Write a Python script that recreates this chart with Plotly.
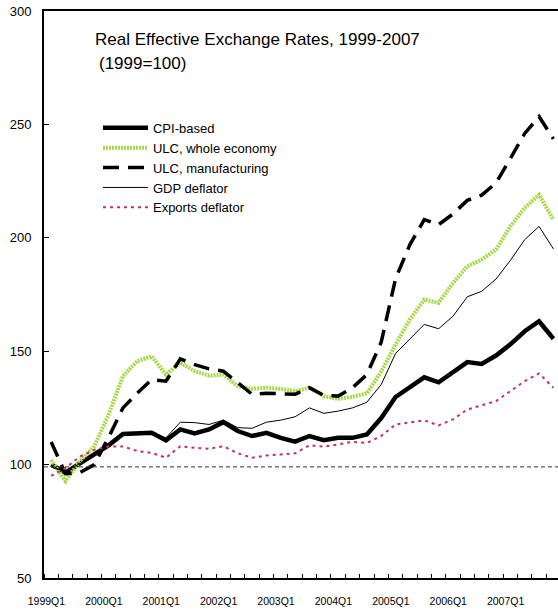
import plotly.graph_objects as go

# quarterly labels 1999Q1 .. 2007Q4
quarters = ['{}Q{}'.format(y, q) for y in range(1999, 2008) for q in range(1, 5)]
x_idx = list(range(len(quarters)))

cpi = [100, 96.5, 100.5, 104.5, 108.5, 113.5, 113.7, 114, 110.7, 115.5, 113.7, 115.5,
       118.7, 114.8, 112.6, 114, 111.8, 110.1, 112.6, 110.8, 111.8, 111.8, 113.3, 120.5,
       129.8, 134.3, 138.5, 136.3, 140.7, 145.2, 144.4, 148.1, 153, 158.8, 163.2, 155.5]
ulc_whole = [102, 92.7, 101.5, 108, 122, 139, 145.6, 147.8, 139.7, 145, 141.2, 139.2,
             139.7, 134.6, 133.4, 133.9, 133.4, 132.4, 133.9, 130.2, 129, 129.9, 131.4, 141,
             153, 164, 172.8, 171.3, 180, 187.4, 190.4, 194.8, 205, 213.2, 219, 208]
ulc_manuf = [110, 96, 96.5, 100, 112, 125, 131.5, 137.5, 136.8, 146.6, 144.1, 142.2,
             141.2, 136, 131, 131.5, 131.4, 131, 133.9, 130.5, 130.2, 133.9, 139.7, 154,
             182, 197, 208, 205.8, 210.5, 216.5, 218.8, 224.2, 235, 246, 253.5, 243.6]
gdp = [99, 97, 100.5, 104, 108.5, 113.3, 113.5, 113.8, 111.8, 118.7, 118.5, 117.7,
       119.6, 116.3, 116, 118.7, 119.6, 121.1, 125, 122.6, 123.6, 125, 127.5, 135.3,
       149, 155.2, 161.8, 159.9, 165.4, 174, 176.4, 181.8, 190, 199.2, 205, 195.1]
exports = [95, 98.5, 103.5, 106.5, 108, 108, 106, 105.2, 103, 108.1, 107.4, 107,
           108.1, 105, 103, 104, 104.5, 105, 108.5, 107.9, 108.9, 110, 109.6, 112.6,
           117.7, 118.7, 119.5, 117.3, 119.9, 124.3, 126.1, 128, 132.4, 136.8, 140.2, 133.9]

baseline = 99
y_ticks = [50, 100, 150, 200, 250, 300]

FONT = 'Liberation Sans, Arial, sans-serif'

fig = go.Figure()

series = [
    ('CPI-based', cpi, dict(color='black', width=4.5)),
    ('ULC, whole economy', ulc_whole, dict(color='#a6d84a', width=4, dash='2px,1px')),
    ('ULC, manufacturing', ulc_manuf, dict(color='black', width=3.5, dash='16px,9px')),
    ('GDP deflator', gdp, dict(color='black', width=1)),
    ('Exports deflator', exports, dict(color='#c0306a', width=2, dash='3px,4px')),
]
for name, ydata, line in series:
    fig.add_trace(go.Scatter(x=x_idx, y=ydata, mode='lines', name=name, line=line))

# 1999 = 100 reference line
fig.add_shape(type='line', xref='paper', yref='y', x0=0, x1=1, y0=baseline, y1=baseline,
              line=dict(color='#333333', width=1, dash='4px,3px'))

# labels sit on the boundary before each Q1
label_pos = [i - 0.33 for i in x_idx if i % 4 == 0]
label_txt = [quarters[i] for i in x_idx if i % 4 == 0]
bounds = [i - 0.5 for i in range(len(quarters) + 1)]

fig.update_layout(
    width=558, height=609,
    margin=dict(l=44, r=0, t=11, b=31),
    paper_bgcolor='white', plot_bgcolor='white',
    font=dict(family=FONT, color='black'),
    showlegend=True,
    legend=dict(x=0.105, y=0.8205, xanchor='left', yanchor='top', bgcolor='rgba(0,0,0,0)',
                font=dict(size=13), itemwidth=45, tracegroupgap=0),
    xaxis=dict(range=[-0.5, 35.32], showgrid=False, zeroline=False,
               showline=True, linecolor='black', linewidth=2, mirror=True,
               tickmode='array', tickvals=label_pos, ticktext=label_txt, ticks='',
               tickfont=dict(size=10.5), ticklabelstandoff=12,
               minor=dict(tickmode='array', tickvals=bounds, ticks='inside', ticklen=4,
                          tickcolor='black', tickwidth=1, showgrid=False)),
    yaxis=dict(range=[50, 300], showgrid=False, zeroline=False,
               showline=True, linecolor='black', linewidth=2,
               tickmode='array', tickvals=y_ticks, ticks='inside', ticklen=5,
               tickcolor='black', tickwidth=1, tickfont=dict(size=13), ticklabelstandoff=8),
    annotations=[
        dict(xref='paper', yref='paper', x=0.0953, y=0.9506, xanchor='left', yanchor='middle',
             text='Real Effective Exchange Rates, 1999-2007', showarrow=False,
             font=dict(size=17)),
        dict(xref='paper', yref='paper', x=0.103, y=0.908, xanchor='left', yanchor='middle',
             text='(1999=100)', showarrow=False, font=dict(size=17)),
    ],
)

# page body has a default margin; drop it so the figure sits at the window corner
fig.write_html('out.html', config={'displayModeBar': False},
               post_script="document.body.style.margin='0';")
